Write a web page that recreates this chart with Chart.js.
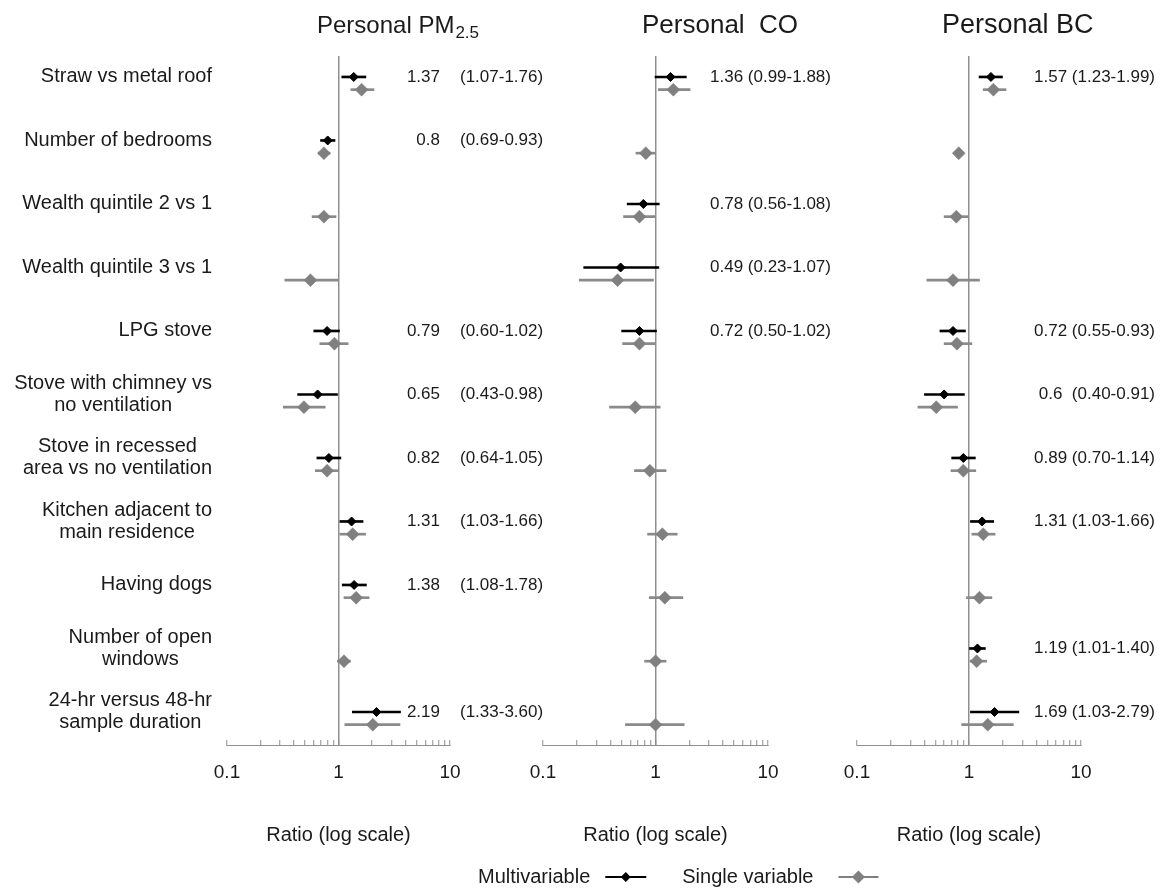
<!DOCTYPE html>
<html>
<head>
<meta charset="utf-8">
<script src="https://cdn.jsdelivr.net/npm/chart.js@4/dist/chart.umd.min.js"></script>
<style>
html,body{margin:0;padding:0;background:#fff;}
#wrap{position:relative;width:1170px;height:890px;overflow:hidden;}
#wrap canvas{position:absolute;left:0;top:0;}
</style>
</head>
<body>
<div id="wrap">
  <canvas id="c1" width="1170" height="890"></canvas>
  <canvas id="c2" width="1170" height="890"></canvas>
  <canvas id="c3" width="1170" height="890"></canvas>
</div>
<script>
// ---------------- data ----------------
const ROW_LABELS = [
  ['Straw vs metal roof'],
  ['Number of bedrooms'],
  ['Wealth quintile 2 vs 1'],
  ['Wealth quintile 3 vs 1'],
  ['LPG stove'],
  ['Stove with chimney vs', 'no ventilation'],
  ['Stove in recessed', 'area vs no ventilation'],
  ['Kitchen adjacent to', 'main residence'],
  ['Having dogs'],
  ['Number of open', 'windows'],
  ['24-hr versus 48-hr', 'sample duration']
];
const ROW_INDEX = [0, 1, 2, 3, 4, 5, 6, 7, 8, 9, 10];

const PANEL_TITLES = ['Personal PM', 'Personal  CO', 'Personal BC'];
const PANEL_SUBSCRIPTS = ['2.5', '', ''];
const AXIS_TITLE = 'Ratio (log scale)';
const LEGEND_LABELS = ['Multivariable', 'Single variable'];

const X_TICK_VALUES = [0.1, 0.2, 0.3, 0.4, 0.5, 0.6, 0.7, 0.8, 0.9, 1, 2, 3, 4, 5, 6, 7, 8, 9, 10];
const X_TICK_LABELED = [0.1, 1, 10];

// Personal PM2.5
const PM_MULTI_EST  = [1.37, 0.8, null, null, 0.79, 0.65, 0.82, 1.31, 1.38, null, 2.19];
const PM_MULTI_LO   = [1.07, 0.69, null, null, 0.60, 0.43, 0.64, 1.03, 1.08, null, 1.33];
const PM_MULTI_HI   = [1.76, 0.93, null, null, 1.02, 0.98, 1.05, 1.66, 1.78, null, 3.60];
const PM_SINGLE_EST = [1.61, 0.74, 0.74, 0.56, 0.92, 0.49, 0.79, 1.34, 1.44, 1.12, 2.03];
const PM_SINGLE_LO  = [1.29, 0.66, 0.58, 0.33, 0.68, 0.32, 0.62, 1.03, 1.12, 0.98, 1.14];
const PM_SINGLE_HI  = [2.08, 0.84, 0.95, 0.99, 1.22, 0.76, 1.00, 1.75, 1.88, 1.28, 3.56];

// Personal CO
const CO_MULTI_EST  = [1.36, null, 0.78, 0.49, 0.72, null, null, null, null, null, null];
const CO_MULTI_LO   = [0.99, null, 0.56, 0.23, 0.50, null, null, null, null, null, null];
const CO_MULTI_HI   = [1.88, null, 1.08, 1.07, 1.02, null, null, null, null, null, null];
const CO_SINGLE_EST = [1.44, 0.82, 0.72, 0.46, 0.72, 0.66, 0.89, 1.15, 1.21, 1.00, 1.00];
const CO_SINGLE_LO  = [1.06, 0.67, 0.52, 0.21, 0.51, 0.39, 0.65, 0.85, 0.88, 0.80, 0.54];
const CO_SINGLE_HI  = [2.03, 1.00, 0.99, 0.96, 0.99, 1.10, 1.24, 1.56, 1.75, 1.24, 1.80];

// Personal BC
const BC_MULTI_EST  = [1.57, null, null, null, 0.72, 0.6, 0.89, 1.31, null, 1.19, 1.69];
const BC_MULTI_LO   = [1.23, null, null, null, 0.55, 0.40, 0.70, 1.03, null, 1.01, 1.03];
const BC_MULTI_HI   = [1.99, null, null, null, 0.93, 0.91, 1.14, 1.66, null, 1.40, 2.79];
const BC_SINGLE_EST = [1.65, 0.81, 0.77, 0.72, 0.78, 0.51, 0.89, 1.34, 1.24, 1.17, 1.47];
const BC_SINGLE_LO  = [1.34, 0.74, 0.60, 0.42, 0.60, 0.35, 0.69, 1.06, 0.95, 1.02, 0.86];
const BC_SINGLE_HI  = [2.14, 0.89, 0.99, 1.24, 1.06, 0.79, 1.15, 1.71, 1.60, 1.44, 2.49];

// ---------------- styling ----------------
const FONT = "'Liberation Sans', Arial, sans-serif";
const TEXT = '#1a1a1a';
const AXIS_GRAY = '#8f8f8f';
const MULTI_COLOR = '#000000';
const SINGLE_COLOR = '#808080';
const SINGLE_OFFSET = 0.2;

Chart.defaults.font.family = FONT;
Chart.defaults.color = TEXT;

function pts(est, offset) {
  const out = [];
  ROW_INDEX.forEach((r, i) => { if (est[i] != null) out.push({x: est[i], y: r + offset}); });
  return out;
}
function bars(lo, hi, offset) {
  const out = [];
  ROW_INDEX.forEach((r, i) => { if (lo[i] != null) out.push({y: r + offset, x: [lo[i], hi[i]]}); });
  return out;
}

function drawDiamond(ctx, x, y, r, color) {
  ctx.beginPath();
  ctx.moveTo(x, y - r); ctx.lineTo(x + r, y); ctx.lineTo(x, y + r); ctx.lineTo(x - r, y);
  ctx.closePath();
  ctx.fillStyle = color; ctx.fill();
}

const panelText = {
  id: 'panelText',
  afterDraw(chart, args, o) {
    const ctx = chart.ctx, ys = chart.scales.y, ca = chart.chartArea;
    ctx.save();
    ctx.fillStyle = TEXT;
    // title
    ctx.textAlign = 'left'; ctx.textBaseline = 'alphabetic';
    ctx.font = o.titleSize + 'px ' + FONT;
    const tx = ca.left + o.titleDx;
    ctx.fillText(o.title, tx, 33);
    if (o.sub) {
      const w = ctx.measureText(o.title).width;
      ctx.font = '17px ' + FONT;
      ctx.fillText(o.sub, tx + w + 1, 38);
    }
    // value annotations
    ctx.font = '17px ' + FONT; ctx.textBaseline = 'middle';
    o.est.forEach((e, i) => {
      if (e == null) return;
      const y = ys.getPixelForValue(ROW_INDEX[i]);
      const est = String(e);
      const ci = '(' + o.lo[i].toFixed(2) + '-' + o.hi[i].toFixed(2) + ')';
      if (o.mode === 'split') {
        ctx.textAlign = 'right'; ctx.fillText(est, ca.right - 10, y);
        ctx.textAlign = 'left'; ctx.fillText(ci, ca.right + 10, y);
      } else if (o.mode === 'left') {
        ctx.textAlign = 'left'; ctx.fillText(est + ' ' + ci, ca.right - 58, y);
      } else {
        ctx.textAlign = 'right'; ctx.fillText(est + (est.length < 4 ? '  ' : ' ') + ci, ca.right + 74, y);
      }
    });
    // row labels
    if (o.rowLabels) {
      ctx.font = '20px ' + FONT; ctx.textAlign = 'center'; ctx.textBaseline = 'middle';
      ROW_LABELS.forEach((lines, i) => {
        const y0 = ys.getPixelForValue(ROW_INDEX[i]);
        const w = Math.max(...lines.map(l => ctx.measureText(l).width));
        const cx = ca.left - 15 - w / 2;
        lines.forEach((l, k) => ctx.fillText(l, cx, y0 + (k - (lines.length - 1) / 2) * 22));
      });
    }
    // legend
    if (o.legend) {
      const ly = chart.height - 13;
      ctx.font = '20px ' + FONT; ctx.textAlign = 'left'; ctx.textBaseline = 'middle';
      let x = 478;
      const items = [[LEGEND_LABELS[0], MULTI_COLOR, 5, 41, 15, 36], [LEGEND_LABELS[1], SINGLE_COLOR, 6.5, 40, 25, 0]];
      items.forEach(([txt, col, r, len, gap, after]) => {
        ctx.fillStyle = TEXT; ctx.fillText(txt, x, ly);
        x += ctx.measureText(txt).width + gap;
        ctx.strokeStyle = col; ctx.lineWidth = 2;
        ctx.beginPath(); ctx.moveTo(x, ly); ctx.lineTo(x + len, ly); ctx.stroke();
        drawDiamond(ctx, x + len / 2, ly, r, col);
        x += len + after;
      });
    }
    ctx.restore();
  }
};

function makeChart(id, pad, d, textOpts) {
  return new Chart(document.getElementById(id), {
    type: 'scatter',
    data: {
      datasets: [
        {label: LEGEND_LABELS[0], data: pts(d.mEst, 0), pointStyle: 'rectRot', pointRadius: 4.5,
         backgroundColor: MULTI_COLOR, borderColor: MULTI_COLOR, borderWidth: 1},
        {label: LEGEND_LABELS[1], data: pts(d.sEst, SINGLE_OFFSET), pointStyle: 'rectRot', pointRadius: 6.5,
         backgroundColor: SINGLE_COLOR, borderColor: SINGLE_COLOR, borderWidth: 0.5},
        {type: 'bar', indexAxis: 'y', grouped: false, data: bars(d.mLo, d.mHi, 0), barThickness: 2,
         backgroundColor: MULTI_COLOR, borderWidth: 0},
        {type: 'bar', indexAxis: 'y', grouped: false, data: bars(d.sLo, d.sHi, SINGLE_OFFSET), barThickness: 2,
         backgroundColor: '#8a8a8a', borderWidth: 0}
      ]
    },
    options: {
      responsive: false, animation: false, events: [],
      layout: {padding: pad},
      plugins: {legend: {display: false}, tooltip: {enabled: false}, panelText: textOpts},
      scales: {
        x: {
          type: 'logarithmic', position: 'bottom', min: 0.1, max: 10, offset: false,
          afterBuildTicks: s => { s.ticks = X_TICK_VALUES.map(v => ({value: v})); },
          ticks: {autoSkip: false, maxRotation: 0, minRotation: 0, padding: 21.6, color: TEXT,
                  font: {size: 19}, callback: v => X_TICK_LABELED.includes(v) ? String(v) : ''},
          grid: {offset: false, drawOnChartArea: true, drawTicks: true, tickLength: -5,
                 color: c => (c.tick && c.tick.value === 1) ? AXIS_GRAY : 'rgba(0,0,0,0)',
                 lineWidth: 1.5, tickColor: AXIS_GRAY, tickWidth: 1},
          border: {display: true, color: AXIS_GRAY, width: 1},
          title: {display: true, text: AXIS_TITLE, color: TEXT, font: {size: 20}, padding: {top: 17, bottom: 0}}
        },
        y: {
          type: 'linear', display: false, reverse: true, min: -0.33, max: 10.52, beginAtZero: false, offset: false
        }
      }
    },
    plugins: [panelText]
  });
}

makeChart('c1', {left: 227, right: 720, top: 56, bottom: 43},
  {mEst: PM_MULTI_EST, mLo: PM_MULTI_LO, mHi: PM_MULTI_HI, sEst: PM_SINGLE_EST, sLo: PM_SINGLE_LO, sHi: PM_SINGLE_HI},
  {title: PANEL_TITLES[0], sub: PANEL_SUBSCRIPTS[0], titleSize: 24, titleDx: 90, mode: 'split',
   est: PM_MULTI_EST, lo: PM_MULTI_LO, hi: PM_MULTI_HI, rowLabels: true, legend: false});

makeChart('c2', {left: 543, right: 402, top: 56, bottom: 43},
  {mEst: CO_MULTI_EST, mLo: CO_MULTI_LO, mHi: CO_MULTI_HI, sEst: CO_SINGLE_EST, sLo: CO_SINGLE_LO, sHi: CO_SINGLE_HI},
  {title: PANEL_TITLES[1], sub: PANEL_SUBSCRIPTS[1], titleSize: 26, titleDx: 99, mode: 'left',
   est: CO_MULTI_EST, lo: CO_MULTI_LO, hi: CO_MULTI_HI, rowLabels: false, legend: true});

makeChart('c3', {left: 857, right: 89, top: 56, bottom: 43},
  {mEst: BC_MULTI_EST, mLo: BC_MULTI_LO, mHi: BC_MULTI_HI, sEst: BC_SINGLE_EST, sLo: BC_SINGLE_LO, sHi: BC_SINGLE_HI},
  {title: PANEL_TITLES[2], sub: PANEL_SUBSCRIPTS[2], titleSize: 27, titleDx: 85, mode: 'right',
   est: BC_MULTI_EST, lo: BC_MULTI_LO, hi: BC_MULTI_HI, rowLabels: false, legend: false});
</script>
</body>
</html>
